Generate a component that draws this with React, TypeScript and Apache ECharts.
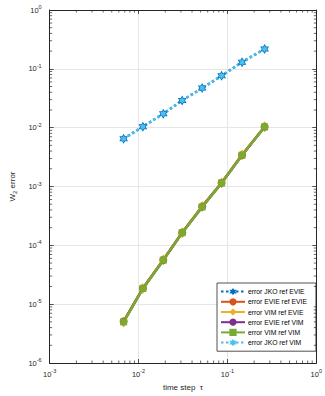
import React, { useEffect, useRef } from "react";
import * as echarts from "echarts";

const tau = [0.0068, 0.0112, 0.019, 0.031, 0.052, 0.086, 0.146, 0.262];
const jkoRefEvie = [0.0065, 0.0104, 0.0173, 0.029, 0.047, 0.076, 0.13, 0.218];
const evieRefEvie = [5.1e-6, 1.86e-5, 5.7e-5, 1.65e-4, 4.6e-4, 1.16e-3, 3.45e-3, 1.04e-2];
const vimRefEvie = [5.0e-6, 1.85e-5, 5.65e-5, 1.64e-4, 4.55e-4, 1.15e-3, 3.42e-3, 1.035e-2];
const evieRefVim = [5.05e-6, 1.85e-5, 5.6e-5, 1.64e-4, 4.5e-4, 1.15e-3, 3.4e-3, 1.03e-2];
const vimRefVim = [5.0e-6, 1.85e-5, 5.6e-5, 1.64e-4, 4.5e-4, 1.15e-3, 3.4e-3, 1.03e-2];
const jkoRefVim = [0.0065, 0.0104, 0.0173, 0.029, 0.047, 0.076, 0.13, 0.218];

const seriesNames = [
  "error JKO ref EVIE",
  "error EVIE ref EVIE",
  "error VIM ref EVIE",
  "error EVIE ref VIM",
  "error VIM ref VIM",
  "error JKO ref VIM",
];
const xLabel = "time step  τ";
const yLabel = "W{sub|2} error";

const xDecades = [1e-3, 1e-2, 1e-1];
const yDecades = [1e-6, 1e-5, 1e-4, 1e-3, 1e-2, 1e-1];
const minorMultipliers = [2, 3, 4, 5, 6, 7, 8, 9];

const HEXAGRAM =
  "path://M0,-10L2.887,-5L8.66,-5L5.774,0L8.66,5L2.887,5L0,10L-2.887,5L-8.66,5L-5.774,0L-8.66,-5L-2.887,-5Z";

const FONT = "Liberation Sans, Arial, Helvetica, sans-serif";
const AXIS_COLOR = "#262626";
const TEXT_COLOR = "#262626";

function logLabel(v: number) {
  const e = Math.round(Math.log10(v));
  return `{b|10}{s|${e}}`;
}

const labelRich = {
  b: { fontSize: 7.5, color: TEXT_COLOR, fontFamily: FONT },
  s: { fontSize: 5.5, color: TEXT_COLOR, fontFamily: FONT, padding: [0, 0, 6, 0] },
};

export default function App() {
  const ref = useRef<HTMLDivElement>(null);
  useEffect(() => {
    if (!ref.current) return;
    const chart = echarts.init(ref.current, undefined, { renderer: "svg" });

    const minorData: number[][] = [];
    xDecades.forEach((d) => minorMultipliers.forEach((m) => minorData.push([d * m, 1e-3, 0])));
    yDecades.forEach((d) => minorMultipliers.forEach((m) => minorData.push([1e-2, d * m, 1])));

    const mk = (name: string, data: number[], opts: any) => ({
      name,
      type: "line",
      data: tau.map((t, i) => [t, data[i]]),
      symbolKeepAspect: true,
      ...opts,
    });

    const series: any[] = [
      mk(seriesNames[0], jkoRefEvie, {
        symbol: HEXAGRAM,
        symbolSize: 10,
        itemStyle: { color: "#0072BD" },
        lineStyle: { color: "#0072BD", width: 2.5, type: [2.5, 2.5] },
      }),
      mk(seriesNames[1], evieRefEvie, {
        symbol: "circle",
        symbolSize: 8,
        itemStyle: { color: "#D95319" },
        lineStyle: { color: "#D95319", width: 2.5 },
      }),
      mk(seriesNames[2], vimRefEvie, {
        symbol: "diamond",
        symbolSize: [8, 11],
        itemStyle: { color: "#EDB120" },
        lineStyle: { color: "#EDB120", width: 2.5 },
      }),
      mk(seriesNames[3], evieRefVim, {
        symbol: "circle",
        symbolSize: 7,
        itemStyle: { color: "#7E2F8E" },
        lineStyle: { color: "#7E2F8E", width: 2.5 },
      }),
      mk(seriesNames[4], vimRefVim, {
        symbol: "rect",
        symbolSize: 7,
        itemStyle: { color: "#77AC30" },
        lineStyle: { color: "#77AC30", width: 2.5 },
      }),
      mk(seriesNames[5], jkoRefVim, {
        symbol: HEXAGRAM,
        symbolSize: 7,
        itemStyle: { color: "#4DBEEE" },
        lineStyle: { color: "#4DBEEE", width: 2.5, type: [2.5, 2.5] },
      }),
      {
        type: "custom",
        silent: true,
        z: 4,
        data: minorData,
        encode: { x: 0, y: 1 },
        renderItem: (params: any, api: any) => {
          const cs = params.coordSys;
          const which = api.value(2);
          const p = api.coord([api.value(0), api.value(1)]);
          const L = 2.5;
          const style = { stroke: AXIS_COLOR, lineWidth: 0.7 };
          if (which === 0) {
            return {
              type: "group",
              children: [
                { type: "line", shape: { x1: p[0], y1: cs.y + cs.height, x2: p[0], y2: cs.y + cs.height - L }, style },
                { type: "line", shape: { x1: p[0], y1: cs.y, x2: p[0], y2: cs.y + L }, style },
              ],
            };
          }
          return {
            type: "group",
            children: [
              { type: "line", shape: { x1: cs.x, y1: p[1], x2: cs.x + L, y2: p[1] }, style },
              { type: "line", shape: { x1: cs.x + cs.width, y1: p[1], x2: cs.x + cs.width - L, y2: p[1] }, style },
            ],
          };
        },
      },
    ];

    const commonAxis = {
      type: "log",
      logBase: 10,
      axisLine: { show: true, lineStyle: { color: AXIS_COLOR, width: 1 } },
      axisTick: { show: true, inside: true, length: 4, lineStyle: { color: AXIS_COLOR, width: 0.8 } },
      minorTick: { show: false },
    };

    chart.setOption({
      animation: false,
      backgroundColor: "#fff",
      textStyle: { fontFamily: FONT },
      grid: { left: 42, right: 8, top: 10, bottom: 33, containLabel: false },
      legend: {
        orient: "vertical",
        left: 217,
        top: 283,
        data: seriesNames,
        itemWidth: 24,
        itemHeight: 9,
        itemGap: 3,
        padding: [5, 9, 5, 3],
        backgroundColor: "#fff",
        borderColor: AXIS_COLOR,
        borderWidth: 0.8,
        borderRadius: 0,
        textStyle: { fontSize: 6.8, color: "#000", fontFamily: FONT, padding: [0, 0, 0, -2] },
        selectedMode: false,
      },
      xAxis: [
        {
          ...commonAxis,
          min: 1e-3,
          max: 1,
          position: "bottom",
          name: xLabel,
          nameLocation: "middle",
          nameGap: 20,
          nameTextStyle: { fontSize: 8, color: TEXT_COLOR, fontFamily: FONT },
          axisLabel: { formatter: logLabel, rich: labelRich, margin: 5 },
          splitLine: { show: true, lineStyle: { color: "#e6e6e6", width: 1 } },
        },
        {
          ...commonAxis,
          min: 1e-3,
          max: 1,
          position: "top",
          axisLabel: { show: false },
          splitLine: { show: false },
        },
      ],
      yAxis: [
        {
          ...commonAxis,
          min: 1e-6,
          max: 1,
          position: "left",
          name: yLabel,
          nameLocation: "middle",
          nameGap: 27,
          nameRotate: 90,
          nameTextStyle: {
            fontSize: 8,
            color: TEXT_COLOR,
            fontFamily: FONT,
            rich: { sub: { fontSize: 6, color: TEXT_COLOR, fontFamily: FONT, padding: [5, 0, 0, 0] } },
          },
          axisLabel: { formatter: logLabel, rich: labelRich, margin: 8 },
          splitLine: { show: true, lineStyle: { color: "#e6e6e6", width: 1 } },
        },
        {
          ...commonAxis,
          min: 1e-6,
          max: 1,
          position: "right",
          axisLabel: { show: false },
          splitLine: { show: false },
        },
      ],
      series,
    });
    return () => chart.dispose();
  }, []);
  return (
    <div
      ref={ref}
      style={{ position: "fixed", left: 0, top: 0, width: 325, height: 396, background: "#fff" }}
    />
  );
}
